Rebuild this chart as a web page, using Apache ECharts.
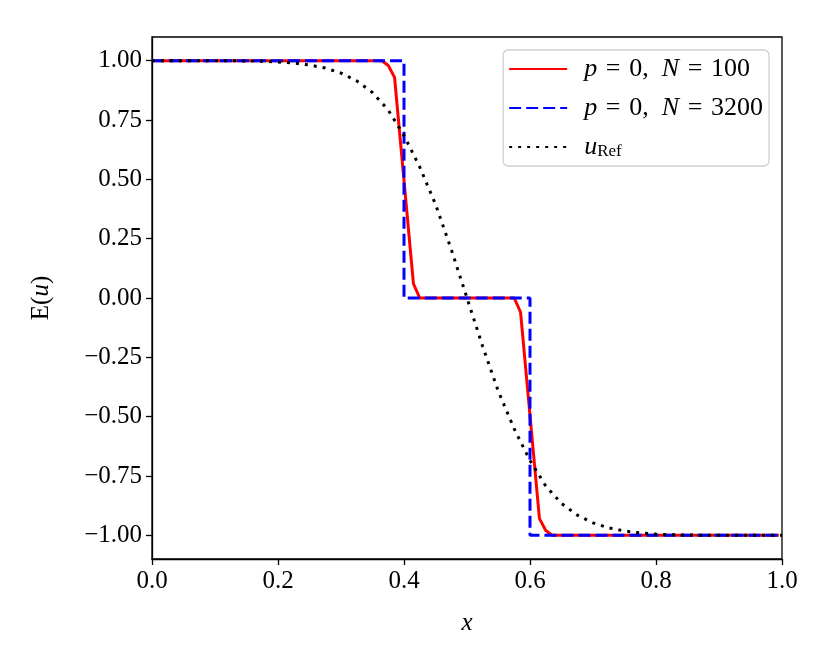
<!DOCTYPE html>
<html>
<head>
<meta charset="utf-8">
<script src="https://cdn.jsdelivr.net/npm/echarts@6/dist/echarts.min.js"></script>
<style>
  html, body { margin: 0; padding: 0; background: #fff; }
  #chart { width: 830px; height: 664px; }
</style>
</head>
<body>
<div id="chart"></div>
<script>
const xTicks = [0, 0.2, 0.4, 0.6, 0.8, 1.0]
const yTicks = [-1, -0.75, -0.5, -0.25, 0, 0.25, 0.5, 0.75, 1]

// p = 0, N = 100 : cell values, flat parts only given by their ends
const coarseX = [0.005, 0.365, 0.375, 0.385, 0.395, 0.405, 0.415, 0.425,
                 0.575, 0.585, 0.595, 0.605, 0.615, 0.625, 0.635, 0.995]
const coarseY = [1, 1, 0.98, 0.93, 0.64, 0.35, 0.06, 0,
                 0, -0.06, -0.35, -0.64, -0.93, -0.98, -1, -1]

// p = 0, N = 3200 : practically a sharp two-step profile
const fineX = [0, 0.4, 0.4, 0.6, 0.6, 1]
const fineY = [1, 1, 0, 0, -1, -1]

// reference solution, read every 0.025
const refX = [0, 0.025, 0.05, 0.075, 0.1, 0.125, 0.15, 0.175, 0.2, 0.225,
              0.25, 0.275, 0.3, 0.325, 0.35, 0.375, 0.4, 0.425, 0.45, 0.475,
              0.5, 0.525, 0.55, 0.575, 0.6, 0.625, 0.65, 0.675, 0.7, 0.725,
              0.75, 0.775, 0.8, 0.825, 0.85, 0.875, 0.9, 0.925, 0.95, 0.975, 1]
const refY = [1, 1, 1, 1, 1, 1, 0.999, 0.998, 0.995, 0.99,
              0.982, 0.969, 0.948, 0.915, 0.866, 0.792, 0.685, 0.552, 0.395, 0.205,
              0, -0.205, -0.395, -0.552, -0.685, -0.792, -0.866, -0.915, -0.948, -0.969,
              -0.982, -0.99, -0.995, -0.998, -0.999, -1, -1, -1, -1, -1, -1]

const pairs = (xs, ys) => xs.map((x, i) => [x, ys[i]])

const FONT = 'Liberation Serif'
const FS = 25
const LFS = 26
const EQ = '\u2004=\u2004'
const CM = ',\u2002'

const chart = echarts.init(document.getElementById('chart'))

const option = {
  animation: false,
  backgroundColor: '#fff',
  grid: {
    left: 152, right: 48, top: 37, bottom: 105,
    show: true, borderColor: '#000', borderWidth: 1.3
  },
  legend: {
    orient: 'vertical',
    right: 61, top: 50,
    padding: [6, 6, 6, 5],
    itemGap: 13,
    itemWidth: 58,
    itemHeight: 14,
    itemStyle: { opacity: 0 },
    borderColor: '#d0d0d0',
    borderWidth: 1.3,
    borderRadius: 5,
    backgroundColor: 'rgba(255,255,255,0.8)',
    textStyle: {
      fontFamily: FONT, fontSize: LFS, color: '#000', padding: [0, 0, 0, 12],
      rich: {
        i: { fontFamily: FONT, fontSize: LFS, fontStyle: 'italic', color: '#000' },
        r: { fontFamily: FONT, fontSize: LFS, color: '#000' },
        sub: { fontFamily: FONT, fontSize: 17, color: '#000', verticalAlign: 'bottom', padding: [8, 0, 0, 0] }
      }
    },
    formatter: function (name) {
      if (name === 'c') return '{i|p}{r|' + EQ + '0' + CM + '}{i|N}{r|' + EQ + '100}'
      if (name === 'f') return '{i|p}{r|' + EQ + '0' + CM + '}{i|N}{r|' + EQ + '3200}'
      return '{i|u}{sub|Ref}'
    },
    data: ['c', 'f', 'r']
  },
  xAxis: {
    type: 'value',
    min: 0, max: 1, interval: 0.2,
    name: 'x',
    nameLocation: 'middle',
    nameGap: 52,
    nameTextStyle: { fontFamily: FONT, fontSize: FS, fontStyle: 'italic', color: '#000' },
    axisLine: { show: true, onZero: false, lineStyle: { color: '#000', width: 1.3 } },
    axisTick: { show: true, inside: false, length: 6, lineStyle: { color: '#000', width: 1.3 } },
    axisLabel: {
      fontFamily: FONT, fontSize: FS, color: '#000', margin: 10,
      formatter: v => v.toFixed(1)
    },
    splitLine: { show: false }
  },
  yAxis: {
    type: 'value',
    min: -1.1, max: 1.1,
    name: '{r|E(}{i|u}{r|)}',
    nameLocation: 'middle',
    nameRotate: 90,
    nameGap: 98,
    nameTextStyle: {
      fontFamily: FONT, fontSize: FS, color: '#000',
      rich: {
        r: { fontFamily: FONT, fontSize: FS, color: '#000' },
        i: { fontFamily: FONT, fontSize: FS, fontStyle: 'italic', color: '#000' }
      }
    },
    axisLine: { show: true, onZero: false, lineStyle: { color: '#000', width: 1.3 } },
    axisTick: { show: true, inside: false, length: 6, customValues: yTicks, lineStyle: { color: '#000', width: 1.3 } },
    axisLabel: {
      fontFamily: FONT, fontSize: FS, color: '#000', margin: 10,
      customValues: yTicks,
      formatter: v => (v < 0 ? '\u2212' : '') + Math.abs(v).toFixed(2)
    },
    splitLine: { show: false }
  },
  series: [
    {
      name: 'c', type: 'line', data: pairs(coarseX, coarseY),
      symbol: 'none', color: '#ff0000',
      lineStyle: { color: '#ff0000', width: 3 }
    },
    {
      name: 'f', type: 'line', data: pairs(fineX, fineY),
      symbol: 'none', color: '#0000ff',
      lineStyle: { color: '#0000ff', width: 3, type: [12, 5] }
    },
    {
      name: 'r', type: 'line', data: pairs(refX, refY),
      symbol: 'none', color: '#000',
      lineStyle: { color: '#000', width: 3, type: [3, 6] }
    }
  ]
}

chart.setOption(option)

window.addEventListener('resize', function () {
  chart.resize()
})
</script>
</body>
</html>
